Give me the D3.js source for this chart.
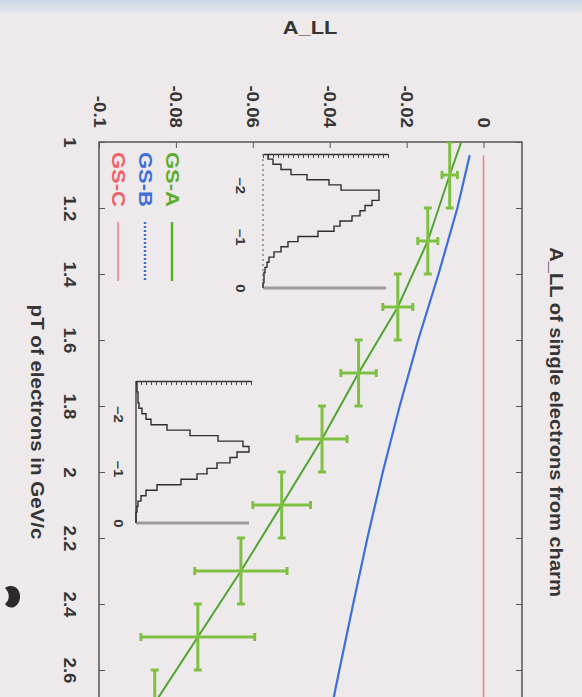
<!DOCTYPE html>
<html>
<head>
<meta charset="utf-8">
<script src="https://cdn.jsdelivr.net/npm/d3@7"></script>
<style>
  body { margin: 0; background: #eeeaec; }
  svg { display: block; }
  text { font-family: "Liberation Sans", Arial, Helvetica, sans-serif; font-weight: bold; fill: #353535; }
</style>
</head>
<body>
<svg id="chart" width="582" height="697"></svg>
<script>
// GS-A projected points (pT bin centre, A_LL, A_LL error)
var ptBins = [1.1, 1.3, 1.5, 1.7, 1.9, 2.1, 2.3, 2.5, 2.7];
var gsAPoints = [-0.0088, -0.0145, -0.0223, -0.0325, -0.0420, -0.0525, -0.0631, -0.0743, -0.0855];
var gsAErrors = [0.0020, 0.0026, 0.0039, 0.0046, 0.0065, 0.0075, 0.0120, 0.0148, 0.0240];
var ptHalfWidth = 0.1;

// model curves
var gsAPt = [1.0, 1.1, 1.3, 1.5, 1.7, 1.9, 2.1, 2.3, 2.5, 2.7, 2.9];
var gsA = [-0.0058, -0.0088, -0.0145, -0.0223, -0.0325, -0.0420, -0.0525, -0.0631, -0.0743, -0.0855, -0.0967];
var gsBPt = [1.04, 1.2, 1.4, 1.6, 1.8, 2.0, 2.2, 2.4, 2.6, 2.8, 3.0];
var gsB = [-0.0036, -0.0068, -0.0117, -0.0170, -0.0218, -0.0262, -0.0302, -0.0339, -0.0375, -0.0410, -0.0443];
var gsCPt = [1.04, 3.0];
var gsC = [0, 0];

// axes
var ptTicks = [1, 1.2, 1.4, 1.6, 1.8, 2, 2.2, 2.4, 2.6];
var allTicks = [-0.1, -0.08, -0.06, -0.04, -0.02, 0];
var allTickLabels = ["-0.1", "-0.08", "-0.06", "-0.04", "-0.02", "0"];

var legendNames = ["GS-A", "GS-B", "GS-C"];
var legendColors = ["#5cae2e", "#3d6fd8", "#f06068"];

// inset histograms
var histEdges = [-2.6, -2.5, -2.4, -2.3, -2.2, -2.1, -2.0, -1.9, -1.8, -1.7, -1.6, -1.5, -1.4,
                 -1.3, -1.2, -1.1, -1.0, -0.9, -0.8, -0.7, -0.6, -0.5, -0.4, -0.3, -0.2, -0.1, 0];
var histTicks = [-2, -1, 0];
var inset1Counts = [5, 10, 18, 28, 44, 66, 78, 116, 116, 109, 102, 97, 89, 77, 71, 55, 35, 25, 18, 11, 6, 4, 2, 1, 1, 0];
var inset2Counts = [1, 1, 2, 2, 3, 6, 10, 15, 31, 54, 82, 107, 113, 101, 94, 81, 71, 61, 45, 21, 10, 5, 2, 1, 0, 0];

var svg = d3.select("#chart");

// background, light blue strip on top of the photo
var defs = svg.append("defs");
var grad = defs.append("linearGradient").attr("id", "topband").attr("x1", 0).attr("y1", 0).attr("x2", 0).attr("y2", 1);
grad.append("stop").attr("offset", "0%").attr("stop-color", "#c9d8e6");
grad.append("stop").attr("offset", "100%").attr("stop-color", "#eeeaec");
svg.append("rect").attr("width", 582).attr("height", 697).attr("fill", "#eeeaec");
svg.append("rect").attr("width", 582).attr("height", 16).attr("fill", "url(#topband)");

// chart is turned a quarter: A_LL runs to the right, pT runs down
var x = d3.scaleLinear().domain([-0.1, 0.01]).range([99, 522]);
var y = d3.scaleLinear().domain([1, 3]).range([142, 802]);

defs.append("clipPath").attr("id", "plot")
    .append("rect").attr("x", 99).attr("y", 142).attr("width", 423).attr("height", 560);

function turned(sel, dx, dy, stretch) {
    // text reading top to bottom
    sel.attr("x", 0).attr("y", 0).attr("dy", "0.35em")
        .attr("transform", "translate(" + dx + "," + dy + ") rotate(90) scale(" + stretch + ",1)");
}

// frame
svg.append("path")
    .attr("d", "M99,697V142H522V697")
    .attr("fill", "none").attr("stroke", "#555").attr("stroke-width", 1.5);

// A_LL axis (top)
var topAxis = svg.append("g").attr("transform", "translate(0,142)")
    .call(d3.axisTop(x).tickValues(allTicks).tickSize(-6).tickFormat(function (d, i) { return allTickLabels[i]; }));
topAxis.attr("font-size", null).attr("font-family", null);
topAxis.select(".domain").remove();
topAxis.selectAll("line").attr("stroke", "#555");
topAxis.selectAll("text").style("font-size", "17px").attr("text-anchor", "end")
    .call(turned, 0, -14, 1.1);

// pT axis (left)
var leftAxis = svg.append("g").attr("transform", "translate(99,0)")
    .call(d3.axisLeft(y).tickValues(ptTicks).tickSize(-6).tickFormat(d3.format("")));
leftAxis.attr("font-size", null).attr("font-family", null);
leftAxis.select(".domain").remove();
leftAxis.selectAll("line").attr("stroke", "#555");
leftAxis.selectAll("text").style("font-size", "17px").attr("text-anchor", "middle")
    .call(turned, -29, 0, 1.1);

var rightAxis = svg.append("g").attr("transform", "translate(522,0)")
    .call(d3.axisRight(y).tickValues(ptTicks).tickSize(-6).tickFormat(""));
rightAxis.select(".domain").remove();
rightAxis.selectAll("line").attr("stroke", "#555");

// titles
svg.append("text").attr("x", 0).attr("y", 0)
    .attr("transform", "translate(310,34) scale(1.15,1)")
    .attr("text-anchor", "middle").style("font-size", "19px").text("A_LL");
svg.append("text").attr("text-anchor", "middle").style("font-size", "19px")
    .text("A_LL of single electrons from charm").call(turned, 557, 422, 1.06);
svg.append("text").attr("text-anchor", "middle").style("font-size", "19px")
    .text("pT of electrons in GeV/c").call(turned, 38, 422, 1.08);

// inset histograms
function drawHist(counts, v, c, baseDash, labelOffset) {
    var g = svg.append("g");
    var top = v(histEdges[0]);

    var countAxis = g.append("g").attr("transform", "translate(0," + top + ")")
        .call(d3.axisTop(c).ticks(24).tickSize(-4).tickSizeOuter(0).tickFormat(""));
    countAxis.select(".domain").attr("stroke", "#333").attr("stroke-width", 1.3);
    countAxis.selectAll("line").attr("stroke", "#444");

    g.append("line")
        .attr("x1", c(0)).attr("x2", c(0)).attr("y1", top).attr("y2", v(0))
        .attr("stroke", baseDash ? "#777" : "#333").attr("stroke-width", 1.3)
        .attr("stroke-dasharray", baseDash ? "2,3" : null);

    g.append("line")
        .attr("x1", c(0)).attr("x2", c.range()[1] - 2).attr("y1", v(0)).attr("y2", v(0))
        .attr("stroke", "#9c9c9c").attr("stroke-width", 3);

    var pts = [];
    counts.forEach(function (n, i) {
        pts.push([c(n), v(histEdges[i])]);
        pts.push([c(n), v(histEdges[i + 1])]);
    });
    g.append("path").attr("d", d3.line()(pts))
        .attr("fill", "none").attr("stroke", "#2e2e2e").attr("stroke-width", 1.4);

    var varAxis = g.append("g").attr("transform", "translate(" + c(0) + ",0)")
        .call(d3.axisLeft(v).tickValues(histTicks).tickSize(0).tickFormat(d3.format("")));
    varAxis.attr("font-size", null).attr("font-family", null);
    varAxis.select(".domain").remove();
    varAxis.selectAll("text").style("font-size", "12px").attr("text-anchor", "middle")
        .call(turned, -labelOffset, 0, 1.25);
}

drawHist(inset1Counts,
    d3.scaleLinear().domain([-2.6, 0]).range([154, 288]),
    d3.scaleLinear().domain([0, 125]).range([263, 388]), true, 23);
drawHist(inset2Counts,
    d3.scaleLinear().domain([-2.6, 0]).range([381, 523]),
    d3.scaleLinear().domain([0, 115]).range([136, 251]), false, 18);

// curves
var plot = svg.append("g").attr("clip-path", "url(#plot)");
var curve = d3.line().x(function (d) { return x(d[1]); }).y(function (d) { return y(d[0]); });

plot.append("path").attr("d", curve(d3.zip(gsCPt, gsC)))
    .attr("fill", "none").attr("stroke", legendColors[2]).attr("stroke-width", 1.5).attr("opacity", 0.8);
plot.append("path").attr("d", curve(d3.zip(gsBPt, gsB)))
    .attr("fill", "none").attr("stroke", legendColors[1]).attr("stroke-width", 2.2);
plot.append("path").attr("d", curve(d3.zip(gsAPt, gsA)))
    .attr("fill", "none").attr("stroke", "#4fa331").attr("stroke-width", 2);

// GS-A error crosses
var errColor = "#7fc043";
var cross = plot.selectAll(".cross").data(d3.range(ptBins.length)).enter().append("g").attr("class", "cross");
cross.append("line")
    .attr("x1", function (i) { return x(gsAPoints[i] - gsAErrors[i]); })
    .attr("x2", function (i) { return x(gsAPoints[i] + gsAErrors[i]); })
    .attr("y1", function (i) { return y(ptBins[i]); })
    .attr("y2", function (i) { return y(ptBins[i]); });
cross.append("line")
    .attr("x1", function (i) { return x(gsAPoints[i]); })
    .attr("x2", function (i) { return x(gsAPoints[i]); })
    .attr("y1", function (i) { return y(ptBins[i] - ptHalfWidth); })
    .attr("y2", function (i) { return y(ptBins[i] + ptHalfWidth); });
[-1, 1].forEach(function (s) {
    cross.append("line")
        .attr("x1", function (i) { return x(gsAPoints[i] + s * gsAErrors[i]); })
        .attr("x2", function (i) { return x(gsAPoints[i] + s * gsAErrors[i]); })
        .attr("y1", function (i) { return y(ptBins[i]) - 4; })
        .attr("y2", function (i) { return y(ptBins[i]) + 4; });
    cross.append("line")
        .attr("x1", function (i) { return x(gsAPoints[i]) - 4; })
        .attr("x2", function (i) { return x(gsAPoints[i]) + 4; })
        .attr("y1", function (i) { return y(ptBins[i] + s * ptHalfWidth); })
        .attr("y2", function (i) { return y(ptBins[i] + s * ptHalfWidth); });
});
cross.selectAll("line").attr("stroke", errColor).attr("stroke-width", 3);

// legend
var legendX = [172, 145, 118];
var legend = svg.selectAll(".legend").data(legendNames).enter().append("g").attr("class", "legend");
legend.append("text")
    .style("font-size", "18px").style("fill", function (d, i) { return legendColors[i]; })
    .attr("text-anchor", "start")
    .each(function (d, i) { d3.select(this).call(turned, legendX[i], 152, 1.22); })
    .text(function (d) { return d; });
legend.append("line")
    .attr("x1", function (d, i) { return legendX[i]; })
    .attr("x2", function (d, i) { return legendX[i]; })
    .attr("y1", 222).attr("y2", 281)
    .attr("stroke", function (d, i) { return legendColors[i]; })
    .attr("stroke-width", function (d, i) { return i === 2 ? 1.5 : 2.5; })
    .attr("stroke-dasharray", function (d, i) { return i === 1 ? "2,2" : null; })
    .attr("opacity", function (d, i) { return i === 2 ? 0.8 : 1; });

// dark smudge in the photo, lower left
svg.append("path")
    .attr("d", "M5,588C12,583 21,588 20,598C19,607 10,611 5,604C10,600 10,593 5,588Z")
    .attr("fill", "#2b2b2b");
</script>
</body>
</html>
